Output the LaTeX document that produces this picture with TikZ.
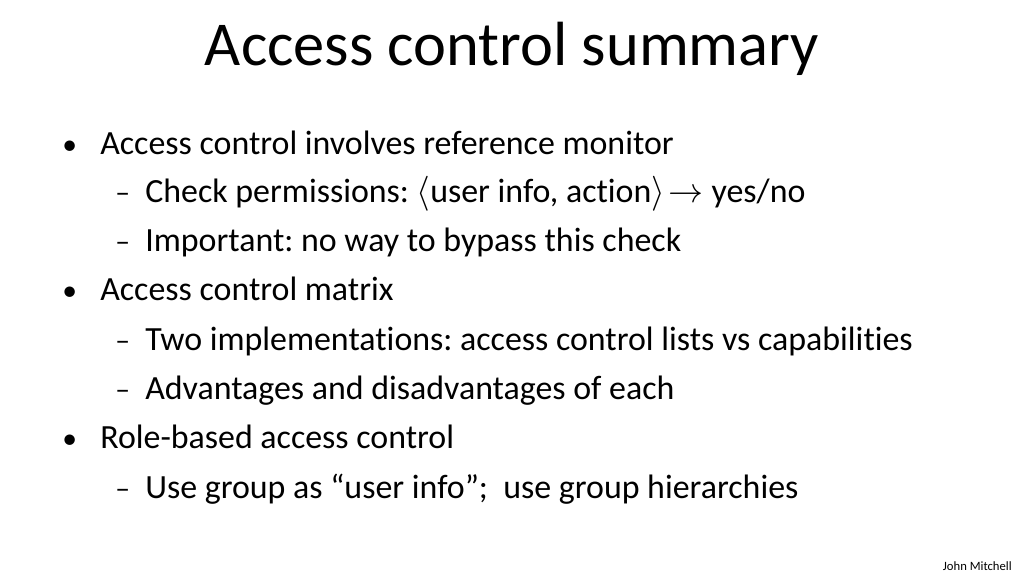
\documentclass[tikz,border=0pt]{standalone}
\usepackage{fontspec}
\setmainfont{Carlito}[Ligatures={NoCommon}]
\usepackage{tikz}
\usetikzlibrary{positioning}
\frenchspacing

\tikzset{
    body/.style={anchor=base west, inner sep=0pt, font=\fontsize{24.1}{28}\selectfont},
    bulletmark/.style={anchor=base west, inner sep=0pt, font=\fontsize{21}{25}\selectfont}
}

\begin{document}
\begin{tikzpicture}[x=0.025cm, y=-0.025cm]
\useasboundingbox (0,0) rectangle (1024,576);
% title
\node[anchor=base, inner sep=0pt, font=\fontsize{44.4}{50}\selectfont] (title) at (512,66) {Access control summary};
% items
\node[bulletmark] (b1) at (62,155) {•};
\node[body] (t1) at (100,155) {Access control involves reference monitor};
\node[bulletmark] (d1) at (115,203) {–};
\node[body] (t2) at (145,203) {Check permissions: $\langle$user info, action$\rangle\!\rightarrow$ yes/no};
\node[bulletmark] (d2) at (115,252) {–};
\node[body] (t3) at (145,252) {Important: no way to bypass this check};
\node[bulletmark] (b2) at (62,301) {•};
\node[body] (t4) at (100,301) {Access control matrix};
\node[bulletmark] (d3) at (115,350) {–};
\node[body] (t5) at (145,350) {Two implementations: access control lists vs capabilities};
\node[bulletmark] (d4) at (115,399) {–};
\node[body] (t6) at (145,399) {Advantages and disadvantages of each};
\node[bulletmark] (b3) at (62,448) {•};
\node[body] (t7) at (100,448) {Role-based access control};
\node[bulletmark] (d5) at (115,498) {–};
\node[body] (t8) at (145,498) {Use group as “user info”;\ \ use group hierarchies};
% footer
\node[anchor=base east, inner sep=0pt, font=\fontsize{9}{10}\selectfont] (author) at (1012,570) {John Mitchell};
\end{tikzpicture}
\end{document}
